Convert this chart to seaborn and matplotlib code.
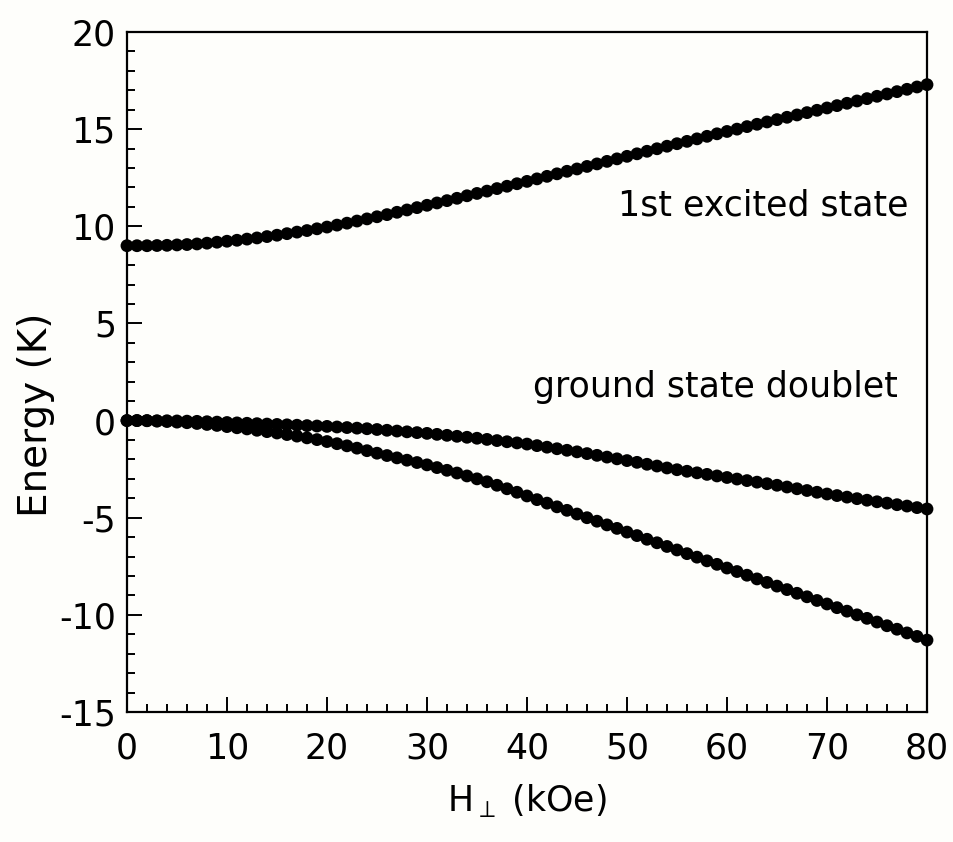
import matplotlib
matplotlib.use("Agg")
import matplotlib.pyplot as plt
from matplotlib.ticker import MultipleLocator
import numpy as np
import pandas as pd
import seaborn as sns

# Transverse field (kOe)
field = list(range(0, 81))

# 1st excited state energy (K)
excited = [
    9.00, 9.00, 9.00, 9.01, 9.02, 9.04, 9.06, 9.09, 9.13, 9.18,
    9.23, 9.28, 9.34, 9.40, 9.47, 9.54, 9.62, 9.70, 9.78, 9.87,
    9.96, 10.06, 10.16, 10.27, 10.38, 10.49, 10.60, 10.72, 10.84, 10.96,
    11.08, 11.20, 11.32, 11.44, 11.57, 11.69, 11.81, 11.94, 12.06, 12.19,
    12.31, 12.44, 12.57, 12.70, 12.83, 12.95, 13.08, 13.21, 13.34, 13.47,
    13.60, 13.73, 13.86, 13.99, 14.12, 14.25, 14.37, 14.50, 14.63, 14.76,
    14.88, 15.00, 15.13, 15.25, 15.37, 15.49, 15.61, 15.73, 15.85, 15.97,
    16.09, 16.21, 16.33, 16.45, 16.57, 16.69, 16.81, 16.93, 17.05, 17.17,
    17.29,
]

# Ground state doublet, upper branch (K)
ground_upper = [
    0.00, 0.00, 0.00, -0.01, -0.01, -0.02, -0.03, -0.04, -0.06, -0.08,
    -0.10, -0.12, -0.14, -0.16, -0.18, -0.20, -0.22, -0.24, -0.26, -0.28,
    -0.30, -0.33, -0.36, -0.39, -0.42, -0.46, -0.50, -0.54, -0.58, -0.62,
    -0.66, -0.71, -0.76, -0.81, -0.86, -0.91, -0.97, -1.03, -1.09, -1.15,
    -1.21, -1.29, -1.37, -1.45, -1.53, -1.61, -1.70, -1.79, -1.88, -1.97,
    -2.06, -2.15, -2.25, -2.34, -2.44, -2.53, -2.61, -2.69, -2.77, -2.85,
    -2.93, -3.01, -3.09, -3.17, -3.25, -3.33, -3.42, -3.51, -3.60, -3.69,
    -3.78, -3.86, -3.94, -4.02, -4.10, -4.18, -4.25, -4.33, -4.40, -4.48,
    -4.55,
]

# Ground state doublet, lower branch (K)
ground_lower = [
    0.00, 0.00, -0.01, -0.03, -0.05, -0.08, -0.11, -0.15, -0.20, -0.25,
    -0.31, -0.37, -0.43, -0.50, -0.57, -0.64, -0.72, -0.80, -0.89, -0.98,
    -1.08, -1.19, -1.30, -1.42, -1.55, -1.68, -1.80, -1.92, -2.04, -2.16,
    -2.28, -2.42, -2.56, -2.70, -2.85, -3.00, -3.15, -3.33, -3.51, -3.69,
    -3.88, -4.07, -4.25, -4.44, -4.62, -4.81, -5.00, -5.18, -5.37, -5.55,
    -5.74, -5.92, -6.11, -6.29, -6.48, -6.66, -6.85, -7.03, -7.22, -7.40,
    -7.59, -7.77, -7.96, -8.15, -8.33, -8.52, -8.70, -8.89, -9.07, -9.26,
    -9.44, -9.63, -9.81, -10.00, -10.18, -10.37, -10.56, -10.74, -10.93, -11.11,
    -11.30,
]

df = pd.concat([
    pd.DataFrame({"H": field, "E": excited, "level": "excited"}),
    pd.DataFrame({"H": field, "E": ground_upper, "level": "ground_upper"}),
    pd.DataFrame({"H": field, "E": ground_lower, "level": "ground_lower"}),
], ignore_index=True)

sns.set_theme(style="ticks")
plt.rcParams["font.family"] = ["DejaVu Sans"]
plt.rcParams["mathtext.fontset"] = "dejavusans"
plt.rcParams["axes.unicode_minus"] = False
plt.rcParams["text.color"] = "black"
plt.rcParams["axes.labelcolor"] = "black"
plt.rcParams["xtick.color"] = "black"
plt.rcParams["ytick.color"] = "black"

bg = "#fefefb"
fig = plt.figure(figsize=(9.54, 8.42), dpi=100, facecolor=bg)
ax = fig.add_axes([0.1331, 0.1544, 0.8386, 0.8076])
ax.set_facecolor(bg)

sns.scatterplot(data=df, x="H", y="E", hue="level",
                palette=["black", "black", "black"], s=85, linewidth=0,
                legend=False, ax=ax, zorder=3, clip_on=False)

ax.set_xlim(0, 80)
ax.set_ylim(-15, 20)
ax.xaxis.set_major_locator(MultipleLocator(10))
ax.xaxis.set_minor_locator(MultipleLocator(2))
ax.yaxis.set_major_locator(MultipleLocator(5))
ax.yaxis.set_minor_locator(MultipleLocator(1))

ax.tick_params(which="both", direction="in", top=False, right=False,
               color="black", width=1.4)
ax.tick_params(which="major", length=10.5, labelsize=25)
ax.tick_params(axis="x", which="major", pad=14)
ax.tick_params(axis="y", which="major", pad=8)
ax.tick_params(which="minor", length=5.5)

for sp in ax.spines.values():
    sp.set_linewidth(1.6)
    sp.set_color("black")

ax.set_xlabel(r"H$_\perp$ (kOe)", fontsize=25, labelpad=12)
ax.set_ylabel("Energy (K)", fontsize=28)
ax.yaxis.set_label_coords(-0.09, 0.437)

ax.text(78.1, 10.57, "1st excited state", fontsize=25, ha="right", va="baseline")
ax.text(77.1, 1.21, "ground state doublet", fontsize=25, ha="right", va="baseline")

fig.savefig("out.png", dpi=100, facecolor=bg)
